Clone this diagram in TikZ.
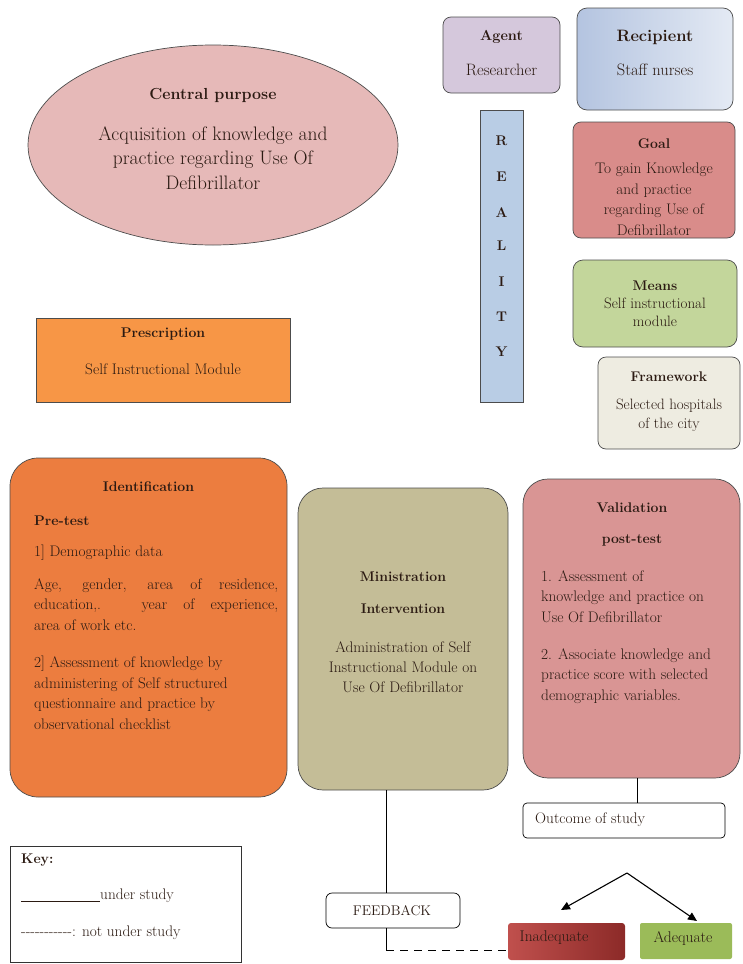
\documentclass[tikz,border=0pt]{standalone}
\usetikzlibrary{shapes.geometric,arrows.meta}
\definecolor{ellc}{HTML}{E6B9B8}
\definecolor{agentc}{HTML}{D5C8DC}
\definecolor{recL}{HTML}{B4C4E0}
\definecolor{recR}{HTML}{E4EAF4}
\definecolor{realc}{HTML}{B9CDE5}
\definecolor{goalc}{HTML}{D98C8A}
\definecolor{meansc}{HTML}{C3D69B}
\definecolor{framec}{HTML}{EEECE1}
\definecolor{prescc}{HTML}{F79646}
\definecolor{identc}{HTML}{EC7D3F}
\definecolor{ministc}{HTML}{C4BD97}
\definecolor{validc}{HTML}{D99594}
\definecolor{inadL}{HTML}{C0504D}
\definecolor{inadR}{HTML}{8C2A28}
\definecolor{adeqc}{HTML}{9BBB59}
\definecolor{textc}{HTML}{2B1A12}
\begin{document}
\begin{tikzpicture}[x=1pt,y=-1pt,
  box/.style={draw=black!70, line width=0.7pt, inner sep=0pt, outer sep=0pt},
  txt/.style={inner sep=0pt, text=textc},
  body/.style={txt, font=\fontsize{15.3}{20.5}\selectfont},
  head/.style={txt, font=\bfseries\fontsize{14}{18}\selectfont},
  arr/.style={-{Triangle[length=9pt,width=8pt]}, line width=1.1pt}]
\useasboundingbox (0,0) rectangle (742,964);

% Central purpose
\node[box, ellipse, fill=ellc, minimum width=370pt, minimum height=200pt] (purpose) at (213,145) {};
\node[txt, font=\bfseries\fontsize{16}{18}\selectfont] (purposeT) at (213,95) {Central purpose};
\node[txt, align=center, font=\fontsize{19.5}{24.5}\selectfont] (purposeB) at (213,158) {Acquisition of knowledge and\\practice regarding Use Of\\Defibrillator};

% Agent
\node[box, rounded corners=8pt, fill=agentc, minimum width=117pt, minimum height=76pt] (agent) at (501.5,55) {};
\node[txt, font=\bfseries\fontsize{14.5}{18}\selectfont] (agentT) at (501.5,37) {Agent};
\node[txt, font=\fontsize{16.5}{20}\selectfont] (agentB) at (501.5,70) {Researcher};

% Recipient
\node[box, rounded corners=10pt, left color=recL, right color=recR, minimum width=156pt, minimum height=102pt] (recip) at (655,59) {};
\node[txt, font=\bfseries\fontsize{16.5}{18}\selectfont] (recipT) at (655,37) {Recipient};
\node[txt, font=\fontsize{16.5}{20}\selectfont] (recipB) at (655,70) {Staff nurses};

% Reality
\node[box, fill=realc, minimum width=43pt, minimum height=292pt] (reality) at (501.5,256) {};
\foreach \l/\yy [count=\i] in {R/141,E/177,A/213,L/246,I/282,T/317,Y/352}
  \node[head] (real\i) at (501.5,\yy) {\l};

% Goal
\node[box, rounded corners=8pt, fill=goalc, minimum width=162pt, minimum height=116pt] (goal) at (654,180) {};
\node[head] (goalT) at (654,144) {Goal};
\node[txt, align=center, font=\fontsize{15.3}{20.5}\selectfont] (goalB) at (654,199) {To gain Knowledge\\and practice\\regarding Use of\\Defibrillator};

% Means
\node[box, rounded corners=10pt, fill=meansc, minimum width=164pt, minimum height=87pt] (means) at (655,303.5) {};
\node[txt, align=center, font=\fontsize{15}{18}\selectfont] (meansT) at (655,304) {\textbf{\fontsize{14}{18}\selectfont Means}\\Self instructional\\module};

% Framework
\node[box, rounded corners=8pt, fill=framec, minimum width=142pt, minimum height=92pt] (frame) at (669,403) {};
\node[head] (frameT) at (669,377) {Framework};
\node[txt, align=center, font=\fontsize{15}{19}\selectfont] (frameB) at (669,415) {Selected hospitals\\of the city};

% Prescription
\node[box, fill=prescc, minimum width=254pt, minimum height=84pt] (presc) at (163,360) {};
\node[head] (prescT) at (163,334) {Prescription};
\node[body] (prescB) at (163,369) {Self Instructional Module};

% Identification
\node[box, rounded corners=28pt, fill=identc, minimum width=277pt, minimum height=339pt] (ident) at (148.5,627.5) {};
\node[head] (identT) at (148.5,487) {Identification};
\node[head, anchor=west] (identP) at (34,521) {Pre-test};
\node[body, anchor=west] (identD) at (34,553) {1] Demographic data};
\node[body, anchor=north west, text width=244pt, align=justify] (identA) at (34,578) {Age, gender, area of residence,\linebreak education,. year of experience,\linebreak area of work etc.};
\node[body, anchor=north west, align=left] (identS) at (34,656) {2] Assessment of knowledge by\\administering of Self structured\\questionnaire and practice by\\observational checklist};

% Ministration
\node[box, rounded corners=25pt, fill=ministc, minimum width=210pt, minimum height=302pt] (minist) at (403,639) {};
\node[head] (ministT) at (403,577) {Ministration};
\node[head] (ministI) at (403,609) {Intervention};
\node[txt, align=center, font=\fontsize{15.3}{20}\selectfont] (ministB) at (403,667) {Administration of Self\\Instructional Module on\\Use Of Defibrillator};

% Validation
\node[box, rounded corners=25pt, fill=validc, minimum width=217pt, minimum height=299pt] (valid) at (631.5,628.5) {};
\node[head] (validT) at (632,508) {Validation};
\node[head] (validP) at (632,540) {post-test};
\node[body, anchor=north west, align=left] (valid1) at (541,570) {1. Assessment of\\knowledge and practice on\\Use Of Defibrillator};
\node[body, anchor=north west, align=left] (valid2) at (541,648) {2. Associate knowledge and\\practice score with selected\\demographic variables.};

% Outcome
\node[box, draw=black, rounded corners=4pt, fill=white, minimum width=202pt, minimum height=35pt] (outcome) at (624,820.5) {};
\node[body, anchor=west] (outcomeT) at (535,820) {Outcome of study};

% Feedback
\node[box, draw=black, rounded corners=6pt, fill=white, minimum width=134pt, minimum height=35pt] (feedback) at (393,910.5) {};
\node[txt, font=\fontsize{14}{18}\selectfont] (feedbackT) at (392,910.5) {FEEDBACK};

% Inadequate / Adequate
\node[box, draw=none, rounded corners=3pt, left color=inadL, right color=inadR, minimum width=117pt, minimum height=37pt] (inadeq) at (566.5,941.5) {};
\node[txt, font=\fontsize{15.5}{18}\selectfont] (inadeqT) at (554,938) {Inadequate};
\node[box, draw=none, rounded corners=2pt, fill=adeqc, minimum width=92pt, minimum height=36pt] (adeq) at (686,941) {};
\node[txt, font=\fontsize{15.5}{18}\selectfont] (adeqT) at (683,939) {Adequate};

% Key
\node[box, draw=black!80, fill=white, minimum width=231pt, minimum height=116pt] (key) at (125.5,904) {};
\node[head, anchor=west] (keyT) at (21,860) {Key:};
\node[body, anchor=west] (keyS) at (21,896) {\rule[-2pt]{79pt}{0.6pt}under study};
\node[body, anchor=west] (keyN) at (21,933) {-{}-{}-{}-{}-{}-{}-{}-{}-{}-{}-: not under study};

% Connectors
\draw[line width=0.7pt] ([xshift=5.5pt]valid.south) coordinate (vs) -- (vs |- outcome.north);
\draw[line width=0.7pt] ([xshift=-17pt]minist.south) coordinate (ms) -- (ms |- feedback.north);
\coordinate (fbend) at (386,950);
\draw[line width=0.7pt] (feedback.south -| ms) -- (fbend);
\draw[line width=1pt, dash pattern=on 8pt off 6pt] (fbend) -- (fbend -| inadeq.west);
\coordinate (apex) at (627,873);
\coordinate (endL) at (561,910);
\coordinate (endR) at (697,921);
\draw[arr] (apex) -- (endL);
\draw[arr] (apex) -- (endR);
\end{tikzpicture}
\end{document}
